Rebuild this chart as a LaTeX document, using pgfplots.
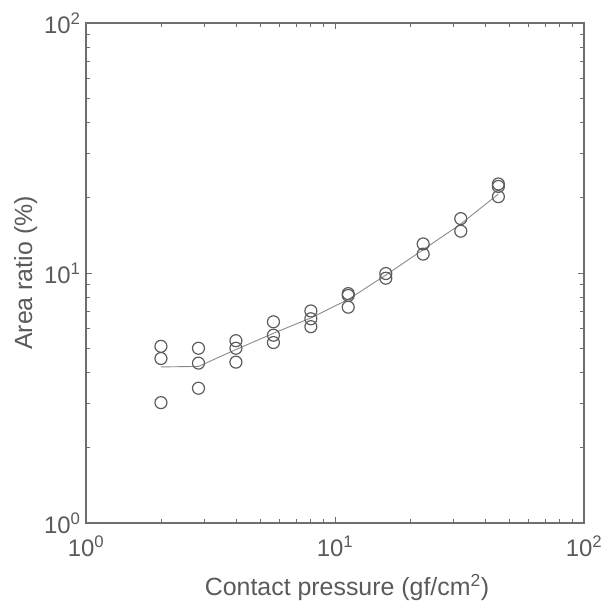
\documentclass[border=0pt]{standalone}
\usepackage{pgfplots}
\pgfplotsset{compat=1.18}
\usepackage{fontspec}
\setmainfont{Liberation Sans}
\definecolor{axgray}{HTML}{6E6E6E}
\definecolor{txtgray}{HTML}{5A5A5A}
\definecolor{mgray}{HTML}{5C5C5C}
\definecolor{lgray}{HTML}{8A8A8A}
\begin{document}
\begin{tikzpicture}
\begin{loglogaxis}[
  scale only axis, width=498bp, height=500bp,
  xmin=1, xmax=100, ymin=1, ymax=100,
  axis line style={axgray, line width=1.1pt},
  every tick/.style={axgray, line width=0.8pt},
  major tick length=6bp, minor tick length=4bp,
  tick align=inside,
  xtick={1,10,100}, ytick={1,10,100},
  xticklabels={10\textsuperscript{0},10\textsuperscript{1},10\textsuperscript{2}},
  yticklabels={10\textsuperscript{0},10\textsuperscript{1},10\textsuperscript{2}},
  tick label style={font=\fontsize{24}{28}\selectfont, txtgray},
  xticklabel style={anchor=base, yshift=-33bp},
  yticklabel style={xshift=-2bp},
  label style={font=\fontsize{25}{30}\selectfont, txtgray},
  xlabel={Contact pressure (gf/cm\textsuperscript{2})},
  ylabel={Area ratio (\%)},
  xlabel style={at={(axis description cs:0.5,0)}, anchor=base, yshift=-72bp, xshift=12bp},
  ylabel shift=0bp,
]
\addplot[only marks, mark=o, mark size=6bp, mark options={line width=1.2pt, draw=mgray}] coordinates {
  (2,5.09) (2,4.55) (2,3.03)
  (2.83,5.0) (2.83,4.36) (2.83,3.46)
  (4,5.36) (4,5.0) (4,4.40)
  (5.66,6.38) (5.66,5.64) (5.66,5.27)
  (8,7.05) (8,6.56) (8,6.10)
  (11.3,8.27) (11.3,8.13) (11.3,7.30)
  (16,9.95) (16,9.53)
  (22.6,13.07) (22.6,11.9)
  (32,16.5) (32,14.7)
  (45.3,22.7) (45.3,22.2) (45.3,20.2)
};
\addplot[lgray, line width=0.9pt, mark=none] coordinates {
  (2,4.21) (2.83,4.23) (4,4.94) (5.66,5.74) (8,6.61) (11.3,7.84)
  (16,9.81) (22.6,12.4) (32,15.7) (45.3,20.7)
};
\end{loglogaxis}
\pgfresetboundingbox
\path ([xshift=-86bp,yshift=-78bp]current axis.south west) rectangle ([xshift=32bp,yshift=23bp]current axis.north east);
\end{tikzpicture}
\end{document}
